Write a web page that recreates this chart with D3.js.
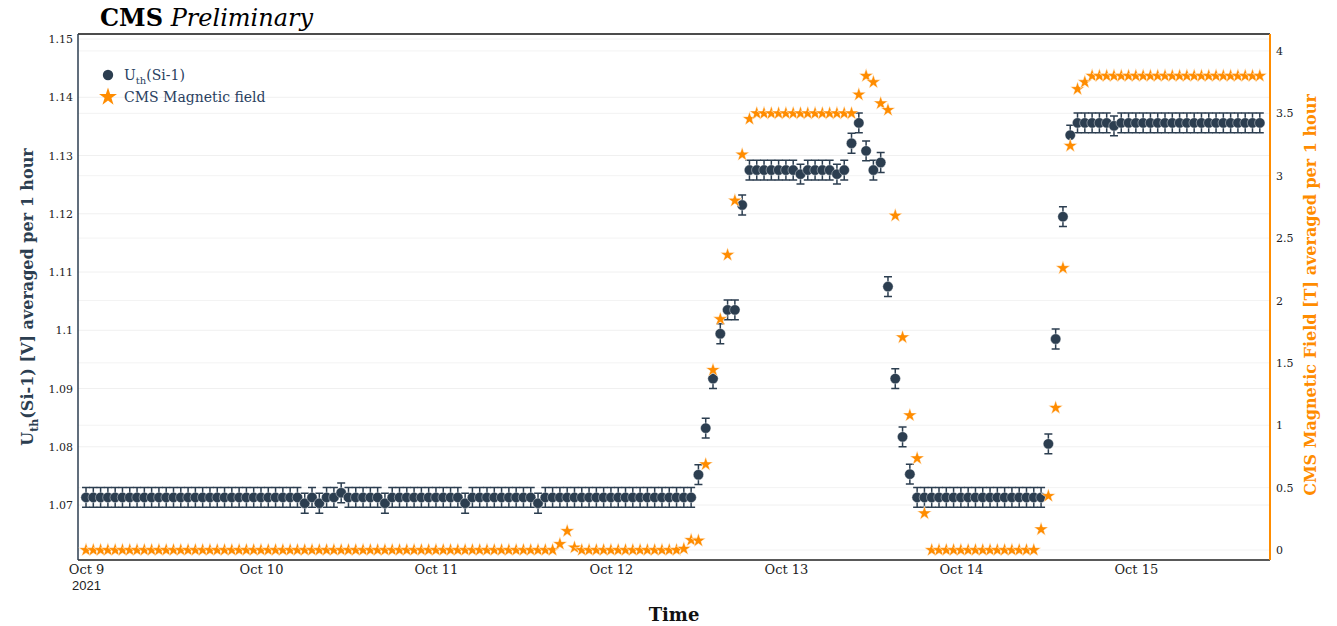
<!DOCTYPE html>
<html>
<head>
<meta charset="utf-8">
<script src="https://cdn.jsdelivr.net/npm/d3@7"></script>
<style>
  body { margin: 0; background: #fff; }
  svg { display: block; font-family: "DejaVu Serif", serif; }
</style>
</head>
<body>
<div id="main"></div>
<script>
// hourly averages, Oct 9 00:00 onwards
const voltage = [
  1.0713, 1.0713, 1.0713, 1.0713, 1.0713, 1.0713, 1.0713, 1.0713, 1.0713, 1.0713,
  1.0713, 1.0713, 1.0713, 1.0713, 1.0713, 1.0713, 1.0713, 1.0713, 1.0713, 1.0713,
  1.0713, 1.0713, 1.0713, 1.0713, 1.0713, 1.0713, 1.0713, 1.0713, 1.0713, 1.0713,
  1.0703, 1.0713, 1.0703, 1.0713, 1.0713, 1.0721, 1.0713, 1.0713, 1.0713, 1.0713,
  1.0713, 1.0703, 1.0713, 1.0713, 1.0713, 1.0713, 1.0713, 1.0713, 1.0713, 1.0713,
  1.0713, 1.0713, 1.0703, 1.0713, 1.0713, 1.0713, 1.0713, 1.0713, 1.0713, 1.0713,
  1.0713, 1.0713, 1.0703, 1.0713, 1.0713, 1.0713, 1.0713, 1.0713, 1.0713, 1.0713,
  1.0713, 1.0713, 1.0713, 1.0713, 1.0713, 1.0713, 1.0713, 1.0713, 1.0713, 1.0713,
  1.0713, 1.0713, 1.0713, 1.0713, 1.0752, 1.0832, 1.0917, 1.0994, 1.1035, 1.1035,
  1.1215, 1.1275, 1.1275, 1.1275, 1.1275, 1.1275, 1.1275, 1.1275, 1.1268, 1.1275,
  1.1275, 1.1275, 1.1275, 1.1268, 1.1275, 1.1321, 1.1356, 1.1308, 1.1275, 1.1288,
  1.1075, 1.0917, 1.0817, 1.0753, 1.0713, 1.0713, 1.0713, 1.0713, 1.0713, 1.0713,
  1.0713, 1.0713, 1.0713, 1.0713, 1.0713, 1.0713, 1.0713, 1.0713, 1.0713, 1.0713,
  1.0713, 1.0713, 1.0805, 1.0985, 1.1195, 1.1335, 1.1356, 1.1356, 1.1356, 1.1356,
  1.1356, 1.1351, 1.1356, 1.1356, 1.1356, 1.1356, 1.1356, 1.1356, 1.1356, 1.1356,
  1.1356, 1.1356, 1.1356, 1.1356, 1.1356, 1.1356, 1.1356, 1.1356, 1.1356, 1.1356,
  1.1356, 1.1356
];
const voltageErr = 0.0017;
const field = [
  0, 0, 0, 0, 0, 0, 0, 0, 0, 0,
  0, 0, 0, 0, 0, 0, 0, 0, 0, 0,
  0, 0, 0, 0, 0, 0, 0, 0, 0, 0,
  0, 0, 0, 0, 0, 0, 0, 0, 0, 0,
  0, 0, 0, 0, 0, 0, 0, 0, 0, 0,
  0, 0, 0, 0, 0, 0, 0, 0, 0, 0,
  0, 0, 0, 0, 0, 0.048, 0.152, 0.02, 0, 0,
  0, 0, 0, 0, 0, 0, 0, 0, 0, 0,
  0, 0, 0.01, 0.08, 0.075, 0.687, 1.443, 1.85, 2.365, 2.8,
  3.17, 3.455, 3.5, 3.5, 3.5, 3.5, 3.5, 3.5, 3.5, 3.5,
  3.5, 3.5, 3.5, 3.5, 3.5, 3.5, 3.65, 3.8, 3.75, 3.58,
  3.527, 2.68, 1.705, 1.08, 0.735, 0.294, 0, 0, 0, 0,
  0, 0, 0, 0, 0, 0, 0, 0, 0, 0,
  0, 0.166, 0.433, 1.14, 2.26, 3.24, 3.695, 3.75, 3.8, 3.8,
  3.8, 3.8, 3.8, 3.8, 3.8, 3.8, 3.8, 3.8, 3.8, 3.8,
  3.8, 3.8, 3.8, 3.8, 3.8, 3.8, 3.8, 3.8, 3.8, 3.8,
  3.8, 3.8
];
const startTime = new Date(2021, 9, 9, 0, 0);
const dayTicks = ['Oct 9', 'Oct 10', 'Oct 11', 'Oct 12', 'Oct 13', 'Oct 14', 'Oct 15'];
const voltageTicks = [1.07, 1.08, 1.09, 1.1, 1.11, 1.12, 1.13, 1.14, 1.15];
const fieldTicks = [0, 0.5, 1, 1.5, 2, 2.5, 3, 3.5, 4];

function main() {
  const width = 1337;
  const height = 626;
  const margin = { top: 34, right: 67, bottom: 66, left: 78 };
  const dark = '#2c3e50';
  const orange = '#ff8c00';

  const times = voltage.map((v, i) => d3.timeHour.offset(startTime, i));
  const points = times.map((t, i) => ({ t, v: voltage[i], b: field[i] }));

  const xScale = d3.scaleTime()
    .domain([d3.timeMinute.offset(startTime, -66), d3.timeMinute.offset(startTime, 162.4 * 60)])
    .range([margin.left, width - margin.right]);
  const yLeft = d3.scaleLinear()
    .domain([1.06056, 1.15086])
    .range([height - margin.bottom, margin.top]);
  const yRight = d3.scaleLinear()
    .domain([-0.0802, 4.136])
    .range([height - margin.bottom, margin.top]);

  const svg = d3.select('#main')
    .append('svg')
    .attr('width', width)
    .attr('height', height);

  // faint grid for both y axes
  svg.append('g')
    .selectAll('line')
    .data(fieldTicks)
    .enter()
    .append('line')
    .attr('x1', margin.left)
    .attr('x2', width - margin.right)
    .attr('y1', d => yRight(d))
    .attr('y2', d => yRight(d))
    .style('stroke', '#f3f3f3');
  svg.append('g')
    .selectAll('line')
    .data(voltageTicks)
    .enter()
    .append('line')
    .attr('x1', margin.left)
    .attr('x2', width - margin.right)
    .attr('y1', d => yLeft(d))
    .attr('y2', d => yLeft(d))
    .style('stroke', '#f0f0f0');

  // x axis
  const dayValues = dayTicks.map((d, i) => d3.timeDay.offset(startTime, i));
  const xAxis = d3.axisBottom(xScale)
    .tickValues(dayValues)
    .tickSize(0)
    .tickPadding(5)
    .tickFormat((d, i) => dayTicks[i]);
  const gx = svg.append('g')
    .attr('transform', `translate(0, ${height - margin.bottom})`)
    .call(xAxis);
  gx.select('.domain').remove();
  gx.selectAll('text')
    .style('font-family', '"DejaVu Serif", serif')
    .style('font-size', '13px')
    .style('fill', '#222');
  gx.selectAll('.tick')
    .filter((d, i) => i === 0)
    .append('text')
    .attr('y', 21)
    .attr('dy', '0.71em')
    .style('text-anchor', 'middle')
    .style('font-size', '13px')
    .style('fill', '#222')
    .text('2021');

  // left axis
  const gl = svg.append('g')
    .attr('transform', `translate(${margin.left}, 0)`)
    .call(d3.axisLeft(yLeft).tickValues(voltageTicks).tickSize(0).tickPadding(5).tickFormat(d3.format('')));
  gl.select('.domain').remove();
  gl.selectAll('text')
    .style('font-family', '"DejaVu Serif", serif')
    .style('font-size', '11px')
    .style('fill', '#222');

  // right axis
  const gr = svg.append('g')
    .attr('transform', `translate(${width - margin.right}, 0)`)
    .call(d3.axisRight(yRight).tickValues(fieldTicks).tickSize(0).tickPadding(6).tickFormat(d3.format('')));
  gr.select('.domain').remove();
  gr.selectAll('text')
    .style('font-family', '"DejaVu Serif", serif')
    .style('font-size', '11px')
    .style('fill', '#222');

  // frame lines
  svg.append('line')
    .attr('x1', margin.left).attr('x2', width - margin.right)
    .attr('y1', margin.top).attr('y2', margin.top)
    .style('stroke', '#111').style('stroke-width', 1.5);
  svg.append('line')
    .attr('x1', margin.left).attr('x2', width - margin.right)
    .attr('y1', height - margin.bottom).attr('y2', height - margin.bottom)
    .style('stroke', '#222').style('stroke-width', 1.5);
  svg.append('line')
    .attr('x1', margin.left).attr('x2', margin.left)
    .attr('y1', margin.top).attr('y2', height - margin.bottom)
    .style('stroke', dark).style('stroke-width', 1.5);
  svg.append('line')
    .attr('x1', width - margin.right).attr('x2', width - margin.right)
    .attr('y1', margin.top).attr('y2', height - margin.bottom)
    .style('stroke', orange).style('stroke-width', 2);

  // error bars
  const bars = svg.append('g')
    .style('stroke', dark)
    .style('stroke-width', 1.5);
  bars.selectAll('.err')
    .data(points)
    .enter()
    .append('path')
    .attr('d', (d) => {
      const x = xScale(d.t);
      const y0 = yLeft(d.v - voltageErr);
      const y1 = yLeft(d.v + voltageErr);
      return `M${x},${y0}V${y1}M${x - 4},${y0}H${x + 4}M${x - 4},${y1}H${x + 4}`;
    })
    .style('fill', 'none');

  // voltage points
  svg.append('g')
    .selectAll('circle')
    .data(points)
    .enter()
    .append('circle')
    .attr('cx', d => xScale(d.t))
    .attr('cy', d => yLeft(d.v))
    .attr('r', 5.2)
    .style('fill', dark)
    .style('stroke', '#fff')
    .style('stroke-width', 0.4);

  // magnetic field stars
  const star = d3.symbol().type(d3.symbolStar).size(64);
  svg.append('g')
    .selectAll('path')
    .data(points)
    .enter()
    .append('path')
    .attr('transform', d => `translate(${xScale(d.t)}, ${yRight(d.b)})`)
    .attr('d', star)
    .style('fill', orange)
    .style('stroke', '#fff')
    .style('stroke-width', 0.5);

  // legend
  const legend = svg.append('g')
    .style('font-family', '"DejaVu Serif", serif')
    .style('font-size', '14px')
    .style('fill', '#2a3f5f');
  legend.append('circle')
    .attr('cx', 108).attr('cy', 75).attr('r', 5.2)
    .style('fill', dark);
  const l1 = legend.append('text').attr('x', 124).attr('y', 80);
  l1.append('tspan').text('U');
  l1.append('tspan').attr('dy', 4).style('font-size', '10px').text('th');
  l1.append('tspan').attr('dy', -4).text('(Si-1)');
  legend.append('path')
    .attr('transform', 'translate(108, 97)')
    .attr('d', d3.symbol().type(d3.symbolStar).size(100))
    .style('fill', orange);
  legend.append('text').attr('x', 124).attr('y', 102).text('CMS Magnetic field');

  // title
  const title = svg.append('text')
    .attr('x', 100)
    .attr('y', 26)
    .style('font-family', '"DejaVu Serif", serif')
    .style('font-size', '24px')
    .style('fill', '#000');
  title.append('tspan').style('font-weight', 'bold').text('CMS');
  title.append('tspan').style('font-style', 'italic').text(' Preliminary');

  // x axis title
  svg.append('text')
    .attr('x', 674)
    .attr('y', 621)
    .style('font-family', '"DejaVu Serif", serif')
    .style('font-size', '18px')
    .style('font-weight', 'bold')
    .style('text-anchor', 'middle')
    .style('fill', '#111')
    .text('Time');

  // left y title
  const yt = svg.append('text')
    .attr('transform', 'translate(33, 297) rotate(-90)')
    .style('font-family', '"DejaVu Serif", serif')
    .style('font-size', '16px')
    .style('font-weight', 'bold')
    .style('text-anchor', 'middle')
    .style('fill', dark);
  yt.append('tspan').text('U');
  yt.append('tspan').attr('dy', 5).style('font-size', '11px').text('th');
  yt.append('tspan').attr('dy', -5).text('(Si-1) [V] averaged per 1 hour');

  // right y title
  svg.append('text')
    .attr('transform', 'translate(1316, 295) rotate(-90)')
    .style('font-family', '"DejaVu Serif", serif')
    .style('font-size', '16px')
    .style('font-weight', 'bold')
    .style('text-anchor', 'middle')
    .style('fill', orange)
    .text('CMS Magnetic Field [T] averaged per 1 hour');
}

document.addEventListener('DOMContentLoaded', main);
</script>
</body>
</html>
